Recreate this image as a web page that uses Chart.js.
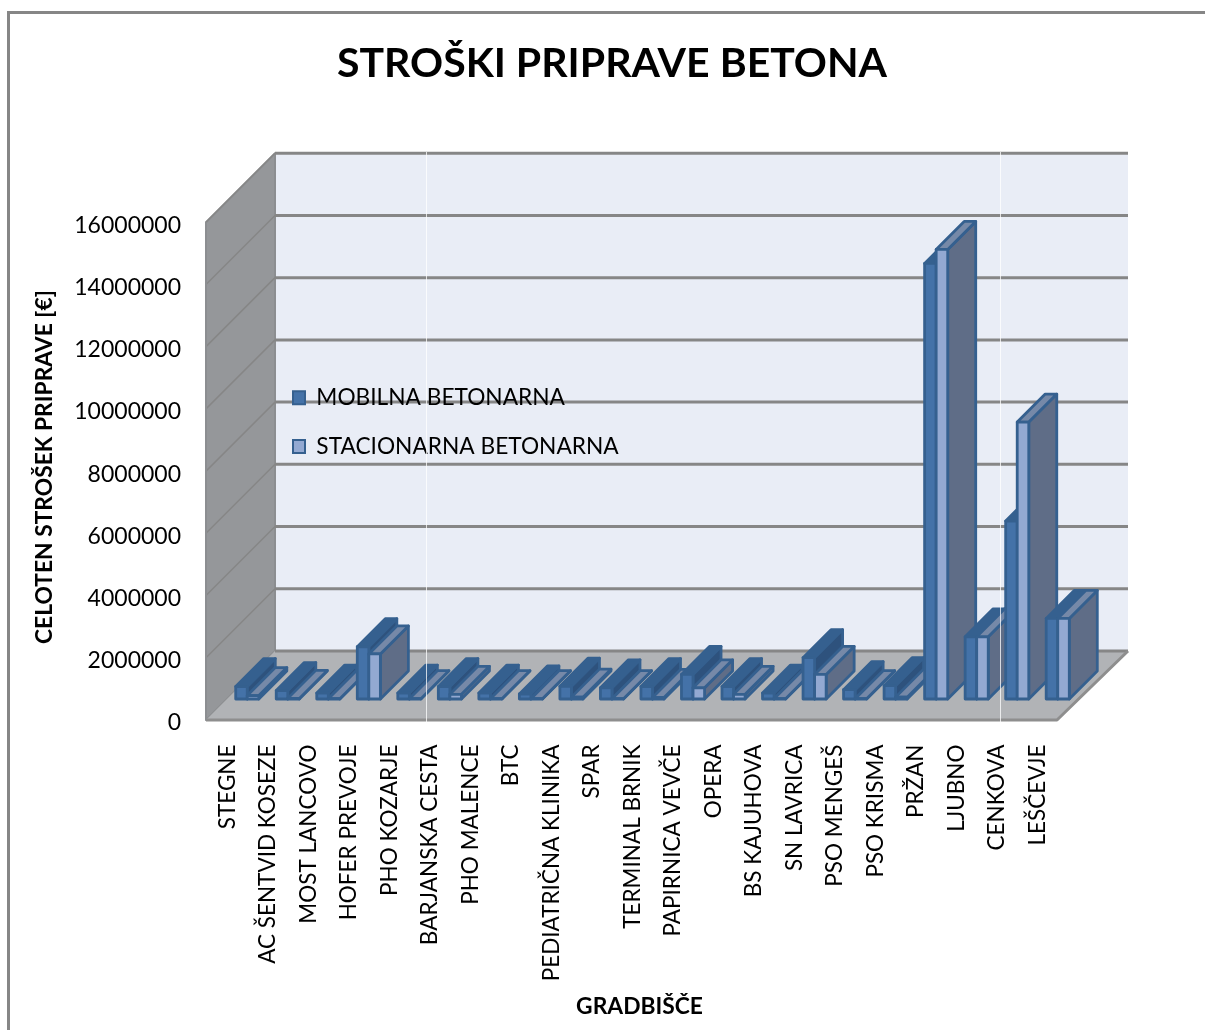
<!DOCTYPE html>
<html><head><meta charset="utf-8">
<style>html,body{margin:0;padding:0;background:#fff}#w{position:relative;width:1205px;height:1030px}</style>
<script src="https://cdn.jsdelivr.net/npm/chart.js@4/dist/chart.umd.min.js"></script>
</head><body><div id="w"><canvas id="c" width="1205" height="1030"></canvas></div>
<script>
const categories = ["STEGNE","AC ŠENTVID KOSEZE","MOST LANCOVO","HOFER PREVOJE","PHO KOZARJE","BARJANSKA CESTA","PHO MALENCE","BTC","PEDIATRIČNA KLINIKA","SPAR","TERMINAL BRNIK","PAPIRNICA VEVČE","OPERA","BS KAJUHOVA","SN LAVRICA","PSO MENGEŠ","PSO KRISMA","PRŽAN","LJUBNO","CENKOVA","LEŠČEVJE"];
const mobilna = [400000,270000,190000,1680000,190000,400000,190000,160000,410000,360000,400000,790000,400000,190000,1330000,300000,430000,14000000,2000000,5720000,2590000];
const stacionarna = [110000,20000,10000,1450000,10000,150000,10000,10000,60000,10000,50000,360000,150000,10000,790000,10000,60000,14450000,2000000,8900000,2590000];
const seriesNames = ["MOBILNA BETONARNA","STACIONARNA BETONARNA"];
const yTicks = [0,2000000,4000000,6000000,8000000,10000000,12000000,14000000,16000000];
const FONT = "Lato";
const faces = [
  {front:"#4472A8",top:"#35608F",side:"#2E527D"},
  {front:"#93A9D2",top:"#7689A8",side:"#5F6D87"}
];
const OUT = "#35608F";
const D = 69, BX = 21, BY = 21, BD = 28;

function poly(ctx,pts,fill,stroke,lw){
  ctx.beginPath();pts.forEach((p,i)=>i?ctx.lineTo(p[0],p[1]):ctx.moveTo(p[0],p[1]));ctx.closePath();
  if(fill){ctx.fillStyle=fill;ctx.fill();}
  if(stroke){ctx.strokeStyle=stroke;ctx.lineWidth=lw;ctx.lineJoin="round";ctx.stroke();}
}
const room = {id:"room",beforeDraw(chart){
  const {ctx,scales:{x,y},chartArea:a}=chart;
  const y0=y.getPixelForValue(0),yT=y.getPixelForValue(yTicks[yTicks.length-1]);
  ctx.save();
  ctx.strokeStyle="#868686";ctx.lineWidth=3;
  ctx.beginPath();ctx.moveTo(8.5,1030);ctx.lineTo(8.5,12.5);ctx.lineTo(1205,12.5);ctx.stroke();
  poly(ctx,[[a.left+D,yT-D],[a.right+D+2,yT-D],[a.right+D+2,y0-D],[a.left+D,y0-D]],"#E9EDF6");
  poly(ctx,[[a.left,yT],[a.left+D,yT-D],[a.left+D,y0-D],[a.left,y0]],"#95979A","#8C8E91",2);
  poly(ctx,[[a.left,y0],[a.right,y0],[a.right+D+2,y0-D],[a.left+D,y0-D]],"#B1B3B6");
  ctx.strokeStyle="#868686";
  yTicks.forEach(v=>{
    const p=y.getPixelForValue(v);
    if(v!==0){ctx.lineWidth=1.5;ctx.beginPath();ctx.moveTo(a.left,p);ctx.lineTo(a.left+D,p-D);ctx.stroke();}
    ctx.lineWidth=3;ctx.beginPath();ctx.moveTo(a.left+D,p-D);ctx.lineTo(a.right+D+2,p-D);ctx.stroke();
  });
  ctx.strokeStyle="#8E8E8E";ctx.lineWidth=3;
  ctx.beginPath();ctx.moveTo(a.left,y0);ctx.lineTo(a.right,y0);ctx.lineTo(a.right+D+2,y0-D);ctx.stroke();
  ctx.lineWidth=2;ctx.strokeStyle="#8C8E91";
  ctx.beginPath();ctx.moveTo(a.left,yT);ctx.lineTo(a.left,y0);ctx.stroke();
  ctx.restore();
}};
const bars3d = {id:"bars3d",
  beforeDatasetDraw(chart){return false;},
  afterDatasetsDraw(chart){
    const ctx=chart.ctx;const m0=chart.getDatasetMeta(0).data,m1=chart.getDatasetMeta(1).data;
    ctx.save();
    categories.forEach((_,i)=>{
      [m0[i],m1[i]].forEach((b,s)=>{
        const p=b.getProps(["x","y","base","width"],true);
        const l=p.x-p.width/2+BX,r=p.x+p.width/2+BX,t=p.y-BY,bt=p.base-BY,c=faces[s];
        poly(ctx,[[r,bt],[r+BD,bt-BD],[r+BD,t-BD],[r,t]],c.side,OUT,2.8);
        poly(ctx,[[l,t],[r,t],[r+BD,t-BD],[l+BD,t-BD]],c.top,OUT,2.8);
        poly(ctx,[[l,t],[r,t],[r,bt],[l,bt]],c.front,OUT,2.8);
      });
    });
    ctx.strokeStyle="rgba(255,255,255,0.75)";ctx.lineWidth=1;
    [426.5,1000.5].forEach(px=>{ctx.beginPath();ctx.moveTo(px,152);ctx.lineTo(px,722);ctx.stroke();});
    ctx.restore();
  }};
const tweak = {id:"tweak",afterLayout(chart){
  const {x,y}=chart.scales;
  const t=chart.titleBlock;t.left+=68;t.right+=68;
  const xd=x.drawTitle;x.drawTitle=function(){this.left+=8;this.right+=8;xd.call(this);this.left-=8;this.right-=8;};
  const yd=y.drawTitle;y.drawTitle=function(){this.top-=4;this.bottom-=4;yd.call(this);this.top+=4;this.bottom+=4;};
  const lg=chart.legend;const w=lg.right-lg.left,h=lg.bottom-lg.top;
  lg.left=267;lg.top=360.5;lg.right=lg.left+w;lg.bottom=lg.top+h;
}};
new Chart(document.getElementById("c"),{
  type:"bar",
  data:{labels:categories,datasets:[
    {label:seriesNames[0],data:mobilna,backgroundColor:faces[0].front,borderColor:OUT,borderWidth:2},
    {label:seriesNames[1],data:stacionarna,backgroundColor:faces[1].front,borderColor:OUT,borderWidth:2}
  ]},
  plugins:[room,bars3d,tweak],
  options:{
    responsive:false,animation:false,
    datasets:{bar:{categoryPercentage:0.57,barPercentage:1}},
    layout:{padding:{left:31,right:148,top:0,bottom:0}},
    plugins:{
      tooltip:{enabled:false},
      title:{display:true,text:"STROŠKI PRIPRAVE BETONA",color:"#000",font:{family:FONT,size:41,weight:"bold",lineHeight:1.2},padding:{top:39,bottom:134}},
      legend:{display:true,position:"chartArea",align:"start",labels:{font:{family:FONT,size:22.7},color:"#000",boxWidth:12,boxHeight:13,padding:26}}
    },
    scales:{
      x:{grid:{display:false},border:{display:false},
        ticks:{font:{family:FONT,size:22.5},color:"#000",minRotation:90,maxRotation:90,autoSkip:false,padding:16.5,labelOffset:1},
        title:{display:true,text:"GRADBIŠČE",color:"#000",font:{family:FONT,size:22.8,weight:"bold"},padding:{top:0,bottom:10}},
        afterFit(s){s.height=310;}},
      y:{min:0,max:16000000,afterBuildTicks(s){s.ticks=yTicks.map(v=>({value:v}));},
        grid:{display:false},border:{display:false},
        ticks:{font:{family:FONT,size:23},color:"#000",padding:17,labelOffset:3,callback:v=>String(v)},
        title:{display:true,text:"CELOTEN STROŠEK PRIPRAVE [€]",color:"#000",font:{family:FONT,size:22.8,weight:"bold"},padding:{top:0,bottom:0}},
        afterFit(s){s.width=175;}}
    }
  }
});
</script></body></html>
